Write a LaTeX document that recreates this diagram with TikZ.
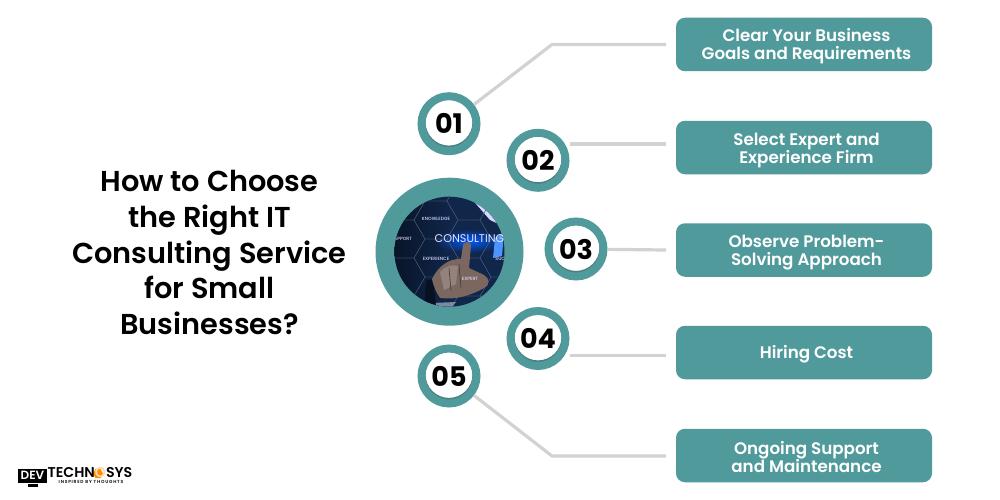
\documentclass[tikz,border=0pt]{standalone}
\usepackage{fontspec}
\setmainfont{Poppins}
\newfontfamily\titlefont{Poppins SemiBold}
\newfontfamily\boxfont{Poppins Medium}
\newfontfamily\numfont{Poppins Bold}
\usepackage{xcolor}
\usetikzlibrary{calc}
\definecolor{tealring}{HTML}{519A9C}
\definecolor{tealdark}{HTML}{4A7F80}
\definecolor{wire}{HTML}{D2D2D2}
\definecolor{navy}{HTML}{10264A}
\definecolor{skin}{HTML}{7C6760}
\tikzset{
	stepbox/.style={fill=tealring, rounded corners=9pt, minimum width=256pt, minimum height=53.5pt, inner sep=0pt},
	steptext/.style={align=center, text=white, inner sep=0pt, font=\titlefont\fontsize{16.7}{18.3}\selectfont},
	numring/.style={circle, fill=white, draw=tealring, line width=8pt, minimum size=55pt, inner sep=0pt, font=\numfont\fontsize{27}{27}\selectfont,
		path picture={\fill[tealdark, even odd rule] (path picture bounding box.center) circle (30pt) ([yshift=1.6pt]path picture bounding box.center) circle (23.5pt);}},
	wireline/.style={draw=wire, line width=3.2pt},
	tinylabel/.style={text=white!85!blue, font=\boxfont\fontsize{4.6}{5}\selectfont, inner sep=0pt},
}
\begin{document}
\begin{tikzpicture}[x=1pt, y=-1pt]
	\useasboundingbox (0,0) rectangle (1000,500);
	\fill[white] (0,0) rectangle (1000,500);
	% title
	\node (title) at (209.5,252.5) [align=center, font=\titlefont\fontsize{28.8}{35.6}\selectfont] {How to Choose\\the Right IT\\Consulting Service\\for Small\\Businesses?};
	% boxes
	\node (b1) at (804,44.5) [stepbox] {};
	\node (b2) at (804,147.5) [stepbox] {};
	\node (b3) at (804,250) [stepbox] {};
	\node (b4) at (804,352.5) [stepbox] {};
	\node (b5) at (804,455.5) [stepbox] {};
	\node (t1) at ($(b1)+(2.5,1.5)$) [steptext] {Clear Your Business\\Goals and Requirements};
	\node (t2) at ($(b2)+(2.5,3)$) [steptext] {Select Expert and\\Experience Firm};
	\node (t3) at ($(b3)+(2.5,2.5)$) [steptext] {Observe Problem-\\Solving Approach};
	\node (t4) at ($(b4)+(2.5,2)$) [steptext] {Hiring Cost};
	\node (t5) at ($(b5)+(2.5,1.5)$) [steptext] {Ongoing Support\\and Maintenance};
	% wires, free ends
	\coordinate (k1) at (552,44.5);
	\coordinate (e1) at (666,44.5);
	\coordinate (e2) at (666,144);
	\coordinate (e3) at (666,250);
	\coordinate (e4) at (666,355.5);
	\coordinate (k5) at (552,456);
	\coordinate (e5) at (666,456);
	% number rings
	\foreach \name/\x/\y/\num in {n1/449/123.7/01, n2/538/160.3/02, n3/576/249/03, n4/538/338.5/04, n5/449/376/05} {
		\node (\name) at (\x,\y) [numring] {\num};
	}
	\draw[wireline] (n1) -- (k1) -- (e1);
	\draw[wireline] (n2.east |- e2) -- (e2);
	\draw[wireline] (n3) -- (e3);
	\draw[wireline] (n4.east |- e4) -- (e4);
	\draw[wireline] (n5) -- (k5) -- (e5);
	% centre picture
	\fill[tealring] (449.5,251.7) circle (74pt);
	\begin{scope}
		\clip (449.5,251.7) circle (55pt);
		\fill[navy] (390,190) rectangle (510,310);
		\shade[left color=black!60!navy, right color=navy, opacity=.8] (390,190) rectangle (450,310);
		\shade[inner color=blue!65!cyan, outer color=navy] (470,241) ellipse (34pt and 12pt);
		\fill[white!75!blue!60] (470,197) -- (492,197) -- (503,226) -- (490,220) -- cycle;
		\fill[blue!60!cyan!70!white] (495,238) -- (504,232) -- (502,256) -- (493,258) -- cycle;
		\foreach \i in {-2,...,3} \foreach \j in {-2,...,3} {
			\pgfmathsetmacro{\cx}{436+33*\i}
			\pgfmathsetmacro{\cy}{220+38*\j+(iseven(\i)?0:19)}
			\draw[white!25!navy, line width=.3pt] (\cx-22,\cy) -- (\cx-11,\cy-19) -- (\cx+11,\cy-19) -- (\cx+22,\cy) -- (\cx+11,\cy+19) -- (\cx-11,\cy+19) -- cycle;
		}
		% cuff and hand
		\fill[white!45!navy] (432,303) -- (456,302) -- (450,310) -- (436,308) -- cycle;
		\fill[black!55!navy] (424,312) -- (426,281) -- (433,279) -- (436,306) -- cycle;
		\fill[skin] (432,279) .. controls (438,266) and (450,258) .. (461,259) -- (463,245) .. controls (465,241) and (470,241) .. (471,245) -- (469,268) -- (484,275) .. controls (490,278) and (490,286) .. (484,288) .. controls (470,296) and (455,300) .. (440,298) .. controls (436,292) and (433,285) .. (432,279) -- cycle;
		\fill[white!18!skin] (440,272) .. controls (446,266) and (452,264) .. (458,266) -- (456,284) -- (444,290) -- cycle;
		\draw[black!45!skin, line width=.6pt] (449,268) -- (451,291) (459,264) -- (461,288);
		\node (cons) at (469.5,238.5) [text=white!90!blue, font=\fontsize{11.2}{12}\selectfont, inner sep=0pt] {CONSULTING};
		\node (know) at (436,219) [tinylabel] {KNOWLEDGE};
		\node (supp) at (403,239) [tinylabel] {UPPORT};
		\node (expe) at (436,258.5) [tinylabel] {EXPERIENCE};
		\node (expt) at (470,278.5) [tinylabel] {EXPERT};
		\node (succ) at (502,259) [tinylabel] {SUCC};
	\end{scope}
	% logo
	\fill[black] (18,468.5) rectangle (47,483);
	\fill[black] (28,484) rectangle (38,487);
	\fill[orange!90!yellow] (93,473.5) -- (95.5,469) -- (100.5,469) -- (103,473.5) -- (100.5,478) -- (95.5,478) -- cycle;
	\node (dev) at (32.5,475.5) [text=white, font=\titlefont\fontsize{12}{12}\selectfont, inner sep=0pt] {DEV};
	\node (tech) at (90,473) [font=\titlefont\fontsize{14.2}{14}\selectfont, inner sep=0pt, text height=9pt, text depth=0pt] {TECHN\textcolor{orange!30!white}{O}SYS};
	\node (tag) at (91,482) [font=\titlefont\fontsize{4.4}{4.6}\addfontfeature{LetterSpace=18}\selectfont, inner sep=0pt, text height=3.2pt, text depth=0pt] {INSPIRED BY THOUGHTS};
\end{tikzpicture}
\end{document}
